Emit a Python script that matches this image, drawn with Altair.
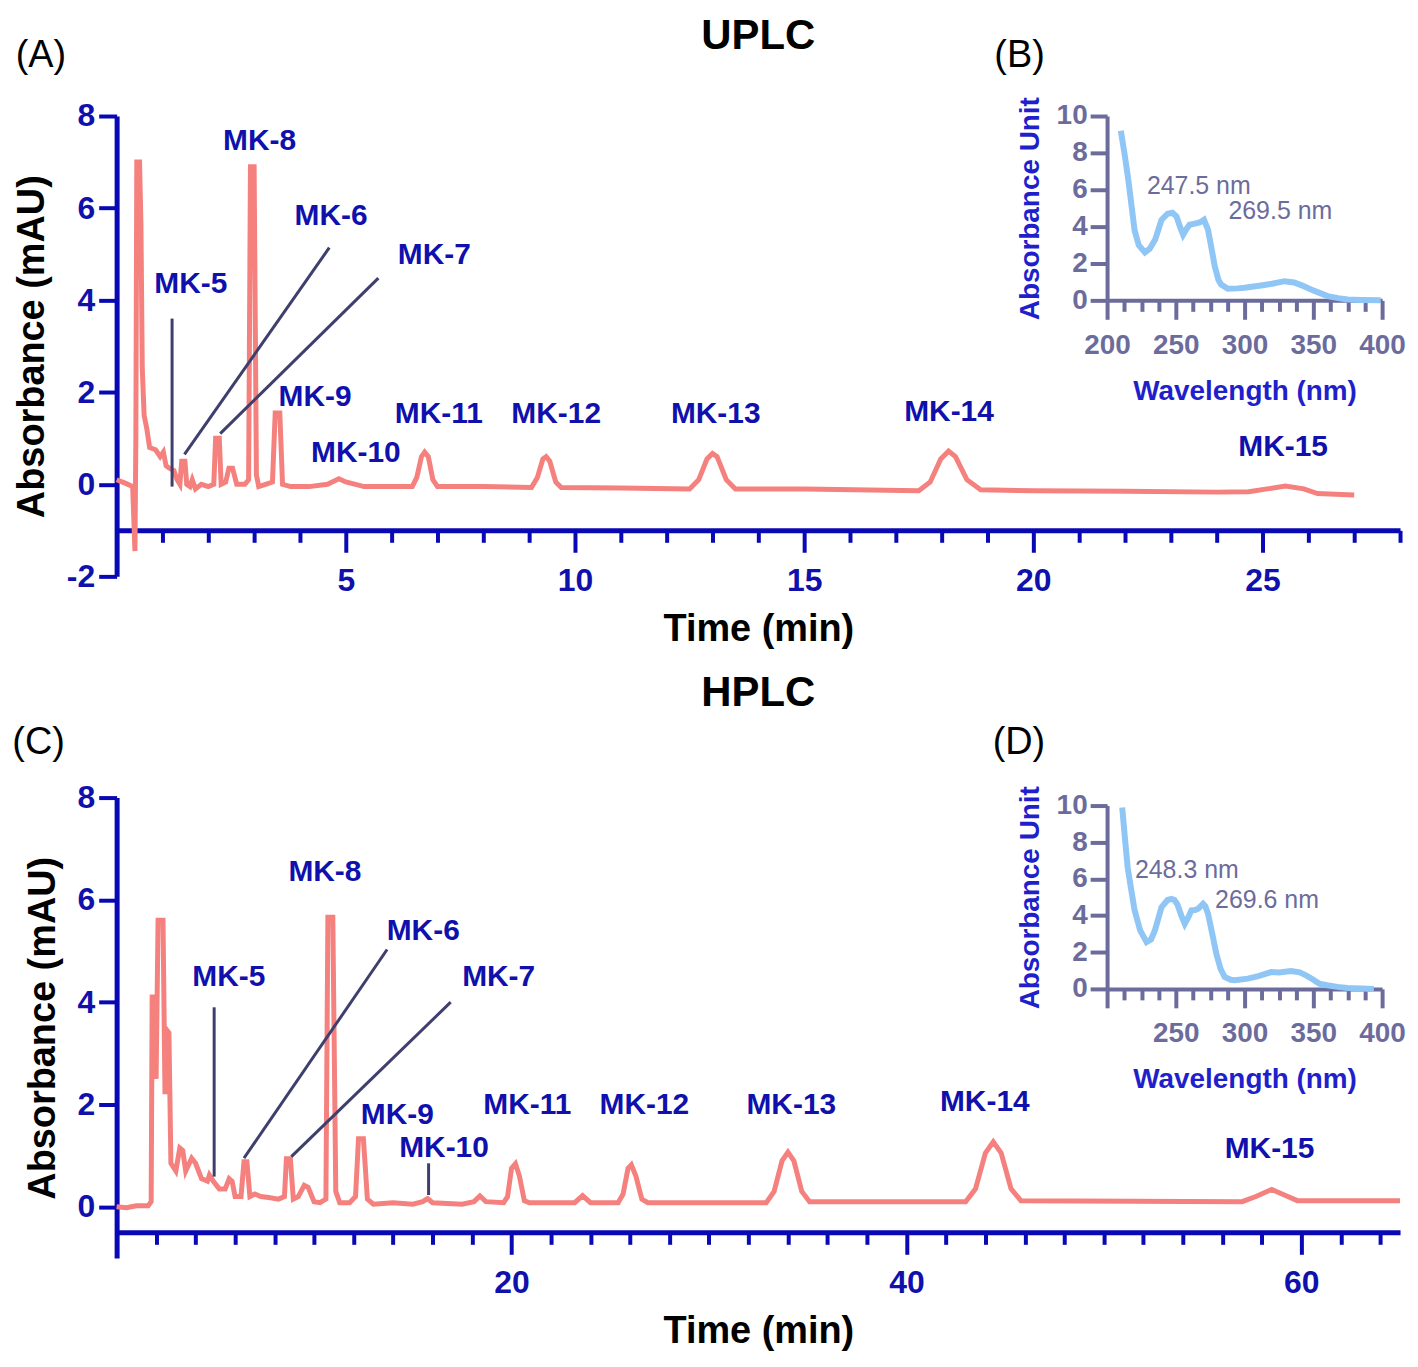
import altair as alt
import pandas as pd

FONT = "Liberation Sans"
PINK = "#f4817e"
SKY = "#8fc6f5"
BLUE_AX = "#0808b4"
BLUE_TXT = "#1010ac"
LEADER = "#3f3f6e"
INSET_AX = "#6c6c9c"
INSET_TITLE = "#1f1fcc"

# ---------------- Panel A : UPLC chromatogram ----------------
uplc_t = [0.0, 0.2, 0.35, 0.40, 0.42, 0.44, 0.50, 0.53, 0.56, 0.60, 0.66, 0.72, 0.85, 0.95, 1.02,
          1.08, 1.15, 1.25, 1.32, 1.38, 1.42, 1.49, 1.53, 1.60, 1.65, 1.72, 1.85, 2.0, 2.12, 2.16,
          2.24, 2.28, 2.38, 2.45, 2.53, 2.62, 2.80, 2.88, 2.92, 3.00, 3.05, 3.10, 3.25, 3.40, 3.46,
          3.56, 3.62, 3.8, 4.2, 4.6, 4.85, 5.0, 5.4, 6.0, 6.45, 6.55, 6.65, 6.72, 6.80, 6.9, 7.0,
          8.0, 9.05, 9.18, 9.3, 9.37, 9.45, 9.58, 9.7, 11.0, 12.5, 12.7, 12.88, 13.0, 13.1, 13.3,
          13.5, 15.0, 17.5, 17.75, 17.98, 18.15, 18.3, 18.55, 18.85, 20.0, 22.0, 24.0, 24.7, 25.1,
          25.5, 25.9, 26.2, 27.0]
uplc_v = [0.10, 0.02, -0.05, -1.45, 1.0, 7.0, 7.0, 5.7, 2.5, 1.5, 1.2, 0.8, 0.75, 0.6, 0.7,
          0.4, 0.35, 0.3, 0.1, 0.0, 0.5, 0.5, 0.0, -0.05, 0.1, -0.1, 0.0, -0.05, 0.0, 1.0,
          1.0, 0.0, 0.05, 0.35, 0.35, 0.0, 0.0, 0.1, 6.9, 6.9, 0.2, -0.05, 0.0, 0.05, 1.55,
          1.55, 0.0, -0.05, -0.05, 0.0, 0.12, 0.05, -0.05, -0.05, -0.05, 0.15, 0.6, 0.7, 0.6, 0.1, -0.05,
          -0.05, -0.07, 0.15, 0.55, 0.6, 0.5, 0.05, -0.07, -0.08, -0.1, 0.1, 0.55, 0.67, 0.6, 0.1,
          -0.1, -0.1, -0.14, 0.05, 0.55, 0.72, 0.6, 0.1, -0.12, -0.14, -0.15, -0.17, -0.16, -0.1,
          -0.04, -0.1, -0.2, -0.23]
uplc_names = ["MK-5", "MK-6", "MK-7", "MK-8", "MK-9", "MK-10", "MK-11", "MK-12", "MK-13", "MK-14", "MK-15"]
uplc_label_t = [1.62, 4.68, 6.93, 3.12, 4.33, 5.22, 7.03, 9.59, 13.07, 18.16, 25.45]
uplc_label_v = [4.36, 5.83, 4.99, 7.45, 1.90, 0.69, 1.52, 1.52, 1.52, 1.56, 0.80]
uplc_lead_t1 = [1.21, 1.48, 2.26]
uplc_lead_v1 = [-0.05, 0.65, 1.10]
uplc_lead_t2 = [1.21, 4.64, 5.71]
uplc_lead_v2 = [3.60, 5.14, 4.48]
uplc_x_ticks = list(range(1, 29))
uplc_y_ticks = [-2, 0, 2, 4, 6, 8]

# ---------------- Panel B : UPLC UV spectrum ----------------
specB_nm = [210, 213, 215.5, 218, 220, 223, 227.5, 231, 235, 239.6, 244, 247.5, 250.5, 253, 255.3,
            258, 260, 263, 266, 268, 270.5, 273.4, 276, 278.3, 281, 283, 287.8, 295, 300, 312,
            320, 329, 336, 342, 348.3, 354, 360.4, 368, 375, 385, 399]
specB_a = [9.2, 7.8, 6.5, 5.0, 3.8, 3.0, 2.6, 2.8, 3.3, 4.37, 4.7, 4.75, 4.55, 4.0, 3.56,
           3.9, 4.1, 4.15, 4.2, 4.25, 4.37, 3.83, 2.8, 1.85, 1.1, 0.86, 0.63, 0.65, 0.68, 0.81,
           0.9, 1.04, 0.97, 0.8, 0.59, 0.42, 0.23, 0.12, 0.05, 0.02, 0.0]
specB_peak_text = ["247.5 nm", "269.5 nm"]
specB_peak_nm = [266.7, 326.0]
specB_peak_a = [6.19, 4.84]

# ---------------- Panel C : HPLC chromatogram ----------------
hplc_t = [0.0, 0.5, 1.0, 1.6, 1.75, 1.8, 1.9, 2.0, 2.1, 2.35, 2.45, 2.55, 2.65, 2.75, 3.0,
          3.2, 3.35, 3.5, 3.8, 4.0, 4.3, 4.6, 4.7, 4.9, 5.2, 5.5, 5.7, 5.85, 6.0, 6.3,
          6.45, 6.6, 6.75, 7.0, 7.3, 7.7, 8.2, 8.5, 8.6, 8.8, 8.95, 9.2, 9.5, 9.7, 10.0,
          10.3, 10.6, 10.7, 10.95, 11.1, 11.3, 11.8, 12.1, 12.25, 12.5, 12.7, 13.0, 14.0, 15.0, 15.5,
          15.75, 16.0, 17.5, 18.1, 18.4, 18.7, 19.6, 19.8, 20.0, 20.2, 20.4, 20.65, 20.9, 23.2, 23.6,
          24.0, 25.4, 25.65, 25.9, 26.07, 26.3, 26.6, 26.9, 32.9, 33.3, 33.7, 34.0, 34.3, 34.7, 35.1,
          43.0, 43.5, 44.0, 44.4, 44.8, 45.3, 45.8, 57.0, 57.7, 58.5, 59.2, 59.8, 65.0]
hplc_v = [0.0, -0.02, 0.02, 0.02, 0.1, 4.1, 4.1, 2.5, 5.6, 5.6, 2.2, 3.45, 3.4, 0.85, 0.7,
          1.15, 1.1, 0.7, 0.95, 0.85, 0.55, 0.5, 0.62, 0.5, 0.35, 0.35, 0.55, 0.5, 0.2, 0.2,
          0.88, 0.88, 0.2, 0.25, 0.2, 0.18, 0.15, 0.2, 0.94, 0.94, 0.15, 0.2, 0.42, 0.38, 0.1,
          0.08, 0.15, 5.66, 5.66, 0.3, 0.08, 0.08, 0.2, 1.33, 1.33, 0.15, 0.05, 0.08, 0.05, 0.1,
          0.16, 0.08, 0.05, 0.1, 0.21, 0.1, 0.08, 0.2, 0.75, 0.84, 0.6, 0.12, 0.08, 0.08, 0.22,
          0.08, 0.08, 0.25, 0.75, 0.82, 0.6, 0.15, 0.08, 0.08, 0.3, 0.9, 1.07, 0.9, 0.3, 0.1,
          0.1, 0.35, 1.05, 1.27, 1.05, 0.35, 0.12, 0.1, 0.2, 0.34, 0.22, 0.12, 0.12]
hplc_names = ["MK-5", "MK-6", "MK-7", "MK-8", "MK-9", "MK-10", "MK-11", "MK-12", "MK-13", "MK-14", "MK-15"]
hplc_label_t = [5.68, 15.53, 19.35, 10.55, 14.22, 16.58, 20.8, 26.73, 34.17, 43.97, 58.39]
hplc_label_v = [4.49, 5.40, 4.49, 6.54, 1.80, 1.15, 1.99, 1.99, 1.99, 2.05, 1.13]
hplc_lead_t1 = [4.94, 6.45, 8.85, 15.8]
hplc_lead_v1 = [0.59, 0.95, 0.98, 0.23]
hplc_lead_t2 = [4.94, 13.7, 16.92, 15.8]
hplc_lead_v2 = [3.90, 5.03, 4.00, 0.85]
hplc_x_ticks = list(range(2, 65, 2))
hplc_y_ticks = [0, 2, 4, 6, 8]

# ---------------- Panel D : HPLC UV spectrum ----------------
specD_nm = [211, 213, 215, 218, 220, 224, 228.7, 232, 234.8, 239.6, 244, 246.9, 249, 251.2, 254,
            256.5, 259, 261.3, 264, 266.2, 269.8, 271.5, 273.4, 276.5, 279.5, 282.5, 285.5, 290, 292.8,
            302.4, 310, 319.3, 325, 333.8, 340, 344.7, 350, 354.3, 360, 367.6, 375, 385, 394]
specD_a = [9.9, 8.2, 6.6, 5.2, 4.3, 3.2, 2.55, 2.7, 3.2, 4.46, 4.85, 4.91, 4.85, 4.6, 4.0,
           3.55, 3.9, 4.28, 4.3, 4.37, 4.64, 4.5, 4.1, 3.0, 1.9, 1.1, 0.65, 0.5, 0.47,
           0.56, 0.7, 0.92, 0.9, 0.98, 0.9, 0.74, 0.5, 0.29, 0.2, 0.11, 0.05, 0.02, 0.0]
specD_peak_text = ["248.3 nm", "269.6 nm"]
specD_peak_nm = [258.0, 316.3]
specD_peak_a = [6.47, 4.86]

spec_x_ticks = [200 + 12.5 * i for i in range(17)]
spec_y_ticks = [0, 2, 4, 6, 8, 10]

letters_top = ["(A)", "(B)"]
letters_top_t = [-1.65, 19.7]
letters_top_v = [9.3, 9.3]
letters_bot = ["(C)", "(D)"]
letters_bot_t = [-3.95, 45.7]
letters_bot_v = [9.07, 9.07]

W, H = 1288, 462
INSET_X0, INSET_X1 = 994, 1270


def main_axis_style():
    return dict(domainColor=BLUE_AX, domainWidth=5, tickColor=BLUE_AX, tickWidth=4,
                labelColor=BLUE_TXT, labelFont=FONT, labelFontSize=32, labelFontWeight="bold",
                titleFont=FONT, titleFontSize=38, titleFontWeight="bold", titleColor="black",
                grid=False, labelFlush=False, labelOverlap=False)


def inset_axis_style():
    return dict(domainColor=INSET_AX, domainWidth=4, tickColor=INSET_AX, tickWidth=4,
                labelColor=INSET_AX, labelFont=FONT, labelFontSize=28, labelFontWeight="bold",
                titleFont=FONT, titleFontSize=28, titleFontWeight="bold", titleColor=INSET_TITLE,
                grid=False, labelFlush=False, labelOverlap=False)


def build_row(t, v, names, lt, lv, t1, v1, t2, v2, letters, let_t, let_v,
              xdom, ydom, xticks, major, yticks, xoff,
              snm, sa, ptxt, pnm, pa, yrange, label200, title, title_offset):
    trace_df = pd.DataFrame({"t": t, "v": v})
    lab_df = pd.DataFrame({"name": names, "t": lt, "v": lv})
    seg_df = pd.DataFrame({"t": t1, "v": v1, "t2": t2, "v2": v2})
    let_df = pd.DataFrame({"txt": letters, "t": let_t, "v": let_v})

    xs = alt.Scale(domain=xdom, nice=False, zero=False)
    ys = alt.Scale(domain=ydom, nice=False, zero=False)

    trace = alt.Chart(trace_df).mark_line(color=PINK, strokeWidth=5, clip=False).encode(
        x=alt.X("t:Q", scale=xs, axis=alt.Axis(
            title="Time (min)", values=xticks, offset=xoff,
            labelExpr=f"datum.value % {major} === 0 ? datum.label : ''",
            tickSize={"condition": {"test": f"datum.value % {major} === 0", "value": 22}, "value": 12},
            labelPadding=13, titlePadding=15, **main_axis_style())),
        y=alt.Y("v:Q", scale=ys, axis=alt.Axis(
            title="Absorbance (mAU)", values=yticks, tickSize=18, labelPadding=4,
            labelExpr="'' + datum.value",
            titlePadding=15, **main_axis_style())),
        order=alt.Order("t:Q"),
    )
    leaders = alt.Chart(seg_df).mark_rule(color=LEADER, strokeWidth=3).encode(
        x=alt.X("t:Q", title="Time (min)"), y=alt.Y("v:Q", title="Absorbance (mAU)"),
        x2="t2:Q", y2="v2:Q")
    labels = alt.Chart(lab_df).mark_text(font=FONT, fontSize=30, fontWeight="bold", color=BLUE_TXT,
                                         baseline="middle", align="center").encode(
        x=alt.X("t:Q", title="Time (min)"), y=alt.Y("v:Q", title="Absorbance (mAU)"), text="name:N")
    letter_marks = alt.Chart(let_df).mark_text(font=FONT, fontSize=38, color="black",
                                               baseline="middle", align="center").encode(
        x=alt.X("t:Q", title="Time (min)"), y=alt.Y("v:Q", title="Absorbance (mAU)"), text="txt:N")
    main = alt.layer(trace, leaders, labels, letter_marks)

    spec_df = pd.DataFrame({"nm": snm, "a": sa})
    peak_df = pd.DataFrame({"txt": ptxt, "nm": pnm, "a": pa})
    sx = alt.Scale(domain=[200, 400], range=[INSET_X0, INSET_X1], nice=False, zero=False)
    sy = alt.Scale(domain=[0, 10], range=yrange, nice=False, zero=False)
    lab_test = "datum.value % 50 === 0" + ("" if label200 else " && datum.value > 200")
    spec = alt.Chart(spec_df).mark_line(color=SKY, strokeWidth=6).encode(
        x=alt.X("nm:Q", scale=sx, axis=alt.Axis(
            title="Wavelength (nm)", orient="bottom", values=spec_x_ticks,
            offset=yrange[0] - H,
            labelExpr=f"{lab_test} ? datum.label : ''",
            tickSize={"condition": {"test": "datum.value % 50 === 0", "value": 19}, "value": 11},
            labelPadding=12, titlePadding=18, **inset_axis_style())),
        y=alt.Y("a:Q", scale=sy, axis=alt.Axis(
            title="Absorbance Unit", orient="left", values=spec_y_ticks, offset=-INSET_X0,
            tickSize=17, labelPadding=3, titlePadding=12, **inset_axis_style())),
        order=alt.Order("nm:Q"),
    )
    peaks = alt.Chart(peak_df).mark_text(font=FONT, fontSize=25, color=INSET_AX,
                                         baseline="middle", align="center").encode(
        x=alt.X("nm:Q", title="Wavelength (nm)"), y=alt.Y("a:Q", title="Absorbance Unit"),
        text="txt:N")
    inset = alt.layer(spec, peaks)

    return alt.layer(main, inset).resolve_scale(x="independent", y="independent").properties(
        width=W, height=H,
        title=alt.TitleParams(title, fontSize=42, fontWeight="bold", font=FONT, color="black",
                              anchor="middle", frame="group", baseline="top", offset=title_offset))


rowA = build_row(uplc_t, uplc_v, uplc_names, uplc_label_t, uplc_label_v,
                 uplc_lead_t1, uplc_lead_v1, uplc_lead_t2, uplc_lead_v2,
                 letters_top, letters_top_t, letters_top_v,
                 [0, 28], [-2, 8], uplc_x_ticks, 5, uplc_y_ticks, -46.2,
                 specB_nm, specB_a, specB_peak_text, specB_peak_nm, specB_peak_a, [185, 0], True,
                 "UPLC", -21)
rowC = build_row(hplc_t, hplc_v, hplc_names, hplc_label_t, hplc_label_v,
                 hplc_lead_t1, hplc_lead_v1, hplc_lead_t2, hplc_lead_v2,
                 letters_bot, letters_bot_t, letters_bot_v,
                 [0, 65], [-1, 8], hplc_x_ticks, 20, hplc_y_ticks, -25.67,
                 specD_nm, specD_a, specD_peak_text, specD_peak_nm, specD_peak_a, [192, 8], False,
                 "HPLC", 9)

chart = alt.vconcat(rowA, rowC, spacing=222, bounds="flush").properties(
    padding={"left": 4, "top": 4, "right": 0, "bottom": 0}, background="white"
).configure_view(stroke=None)

chart.save("out.html", embed_options={"renderer": "svg", "actions": False})
